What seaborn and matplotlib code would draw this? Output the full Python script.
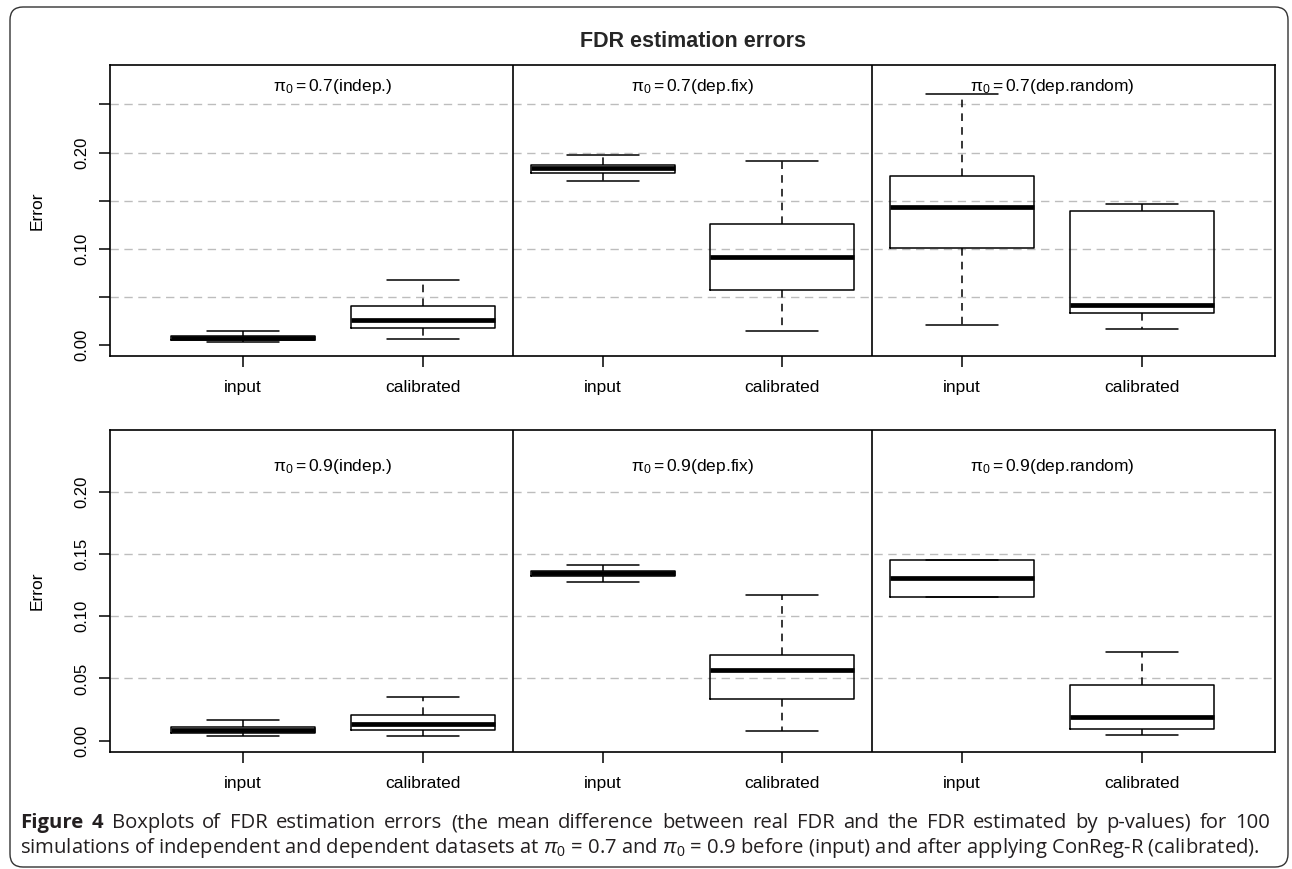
import matplotlib
matplotlib.use("Agg")
import matplotlib.pyplot as plt
from matplotlib.patches import FancyBboxPatch
import pandas as pd
import seaborn as sns

sns.set_theme(style="white")
plt.rcParams["font.family"] = ["Liberation Sans", "DejaVu Sans"]
plt.rcParams["mathtext.fontset"] = "custom"
plt.rcParams["mathtext.rm"] = "Liberation Sans"
plt.rcParams["mathtext.it"] = "Liberation Sans:italic"
plt.rcParams["mathtext.bf"] = "Liberation Sans:bold"

# ── data: five-number summaries read off the boxes ──────────────────
# (lower whisker, Q1, median, Q3, upper whisker), one row per condition
conditions = ["indep.", "dep.fix", "dep.random"]
methods = ["input", "calibrated"]
pi0_values = [0.7, 0.9]

pi07_input = [[0.0030, 0.0055, 0.0078, 0.0095, 0.0150],
              [0.1705, 0.1785, 0.1836, 0.1875, 0.1975],
              [0.0208, 0.1005, 0.1435, 0.1760, 0.2610]]
pi07_calibrated = [[0.0059, 0.0180, 0.0260, 0.0409, 0.0676],
                   [0.0146, 0.0575, 0.0918, 0.1258, 0.1916],
                   [0.0166, 0.0336, 0.0416, 0.1396, 0.1466]]
pi09_input = [[0.0040, 0.0059, 0.0086, 0.0107, 0.0164],
              [0.1277, 0.1323, 0.1344, 0.1365, 0.1411],
              [0.1157, 0.1157, 0.1309, 0.1451, 0.1451]]
pi09_calibrated = [[0.0040, 0.0086, 0.0134, 0.0204, 0.0353],
                   [0.0080, 0.0337, 0.0568, 0.0688, 0.1170],
                   [0.0048, 0.0096, 0.0188, 0.0447, 0.0715]]

top_yticks = [0.00, 0.05, 0.10, 0.15, 0.20, 0.25]
top_yticklabels = ["0.00", "", "0.10", "", "0.20", ""]
bottom_yticks = [0.00, 0.05, 0.10, 0.15, 0.20]
bottom_yticklabels = ["0.00", "0.05", "0.10", "0.15", "0.20"]
top_grid = [0.05, 0.10, 0.15, 0.20, 0.25]
bottom_grid = [0.05, 0.10, 0.15, 0.20]

caption_bold = "Figure 4"
caption_line1 = ("Boxplots of FDR estimation errors (the mean difference between real FDR "
                 "and the FDR estimated by p-values) for 100")
caption_line2 = (r"simulations of independent and dependent datasets at $\pi_0$ = 0.7 and "
                 r"$\pi_0$ = 0.9 before (input) and after applying ConReg-R (calibrated).")

# long-form table for seaborn
rows = []
for pi0, inp, cal in [(0.7, pi07_input, pi07_calibrated),
                      (0.9, pi09_input, pi09_calibrated)]:
    for cond, a, b in zip(conditions, inp, cal):
        for m, vals in zip(methods, (a, b)):
            for v in vals:
                rows.append({"pi0": pi0, "group": f"{cond} {m}", "error": v})
df = pd.DataFrame(rows)
order = [f"{c} {m}" for c in conditions for m in methods]

W, H = 1292, 869
fig = plt.figure(figsize=(W / 100, H / 100), dpi=100)
fig.patch.set_facecolor("white")

# rounded frame around the whole figure
frame = FancyBboxPatch((0.10, 0.02), 12.78, 8.60,
                       boxstyle="round,pad=0,rounding_size=0.13",
                       transform=fig.dpi_scale_trans, fill=False,
                       edgecolor="#333333", linewidth=1.0)
fig.patches.append(frame)

ax_top = fig.add_axes([110 / W, 1 - 356 / H, 1165 / W, 291 / H])
ax_bot = fig.add_axes([110 / W, 1 - 752 / H, 1165 / W, 322 / H])

panels = [
    (ax_top, 0.7, (-0.0114, 0.291), top_yticks, top_yticklabels, top_grid, 0.2685),
    (ax_bot, 0.9, (-0.0091, 0.2496), bottom_yticks, bottom_yticklabels, bottom_grid, 0.220),
]

for ax, pi0, ylim, yt, ytl, grid, label_y in panels:
    for g in grid:
        ax.axhline(g, color="#bdbdbd", linewidth=1.0, linestyle=(0, (6, 4)), zorder=0.5)
    sns.boxplot(data=df[df["pi0"] == pi0], x="group", y="error", order=order,
                ax=ax, whis=(0, 100), width=0.8, fill=False, color="black",
                linewidth=1.1, showfliers=False,
                medianprops={"linewidth": 3.4, "solid_capstyle": "butt"},
                whiskerprops={"linestyle": (0, (5, 4))})
    ax.axvline(1.5, color="black", linewidth=1.2)
    ax.axvline(3.5, color="black", linewidth=1.2)
    ax.set_xlim(-0.74, 5.74)
    ax.set_ylim(*ylim)
    ax.set_yticks(yt)
    ax.set_yticklabels(ytl, rotation=90, va="center")
    ax.set_xticks(range(len(order)))
    ax.set_xticklabels(methods * 3)
    ax.tick_params(axis="both", direction="out", length=8, width=1.1,
                   labelsize=12, color="black", labelcolor="black", left=True, bottom=True)
    ax.tick_params(axis="x", pad=9, labelsize=12.5)
    ax.tick_params(axis="y", pad=7)
    for s in ax.spines.values():
        s.set_visible(True)
        s.set_color("black")
        s.set_linewidth(1.2)
    ax.set_xlabel("")
    ax.set_ylabel("Error", fontsize=12.5, color="black")
    ax.yaxis.set_label_coords(-0.0627, 0.5)
    ax.yaxis.label.set_va("center")
    for i, cond in enumerate(conditions):
        ax.text(2 * i + 0.5, label_y, r"$\mathrm{\pi}_0 = $" + f"{pi0}({cond})",
                ha="center", va="center", fontsize=12.5, color="black")

ax_top.set_title("FDR estimation errors", fontsize=15.5, fontweight="bold", pad=13)

# caption: first line justified between x=20 and x=1270 px
cap_color = "#231f20"
cap_font = ["Open Sans", "DejaVu Sans"]
cap_size = 14.6
fig.canvas.draw()
r = fig.canvas.get_renderer()
y1 = 1 - 823 / H
y2 = 1 - 848 / H

words = [(w, "bold") for w in caption_bold.split()] + \
        [(w, "normal") for w in caption_line1.split()]
pieces = []
for w, wt in words:
    t = fig.text(0, y1, w, fontweight=wt, fontsize=cap_size, family=cap_font,
                 color=cap_color, va="center")
    pieces.append((t, t.get_window_extent(r).width))
left, right = 20, 1270
gap = (right - left - sum(wd for _, wd in pieces)) / (len(pieces) - 1)
x = left
for t, wd in pieces:
    t.set_x(x / W)
    x += wd + gap

fig.text(20 / W, y2, caption_line2, fontsize=cap_size, family=cap_font,
         color=cap_color, va="center")

fig.savefig("out.png", dpi=100)
